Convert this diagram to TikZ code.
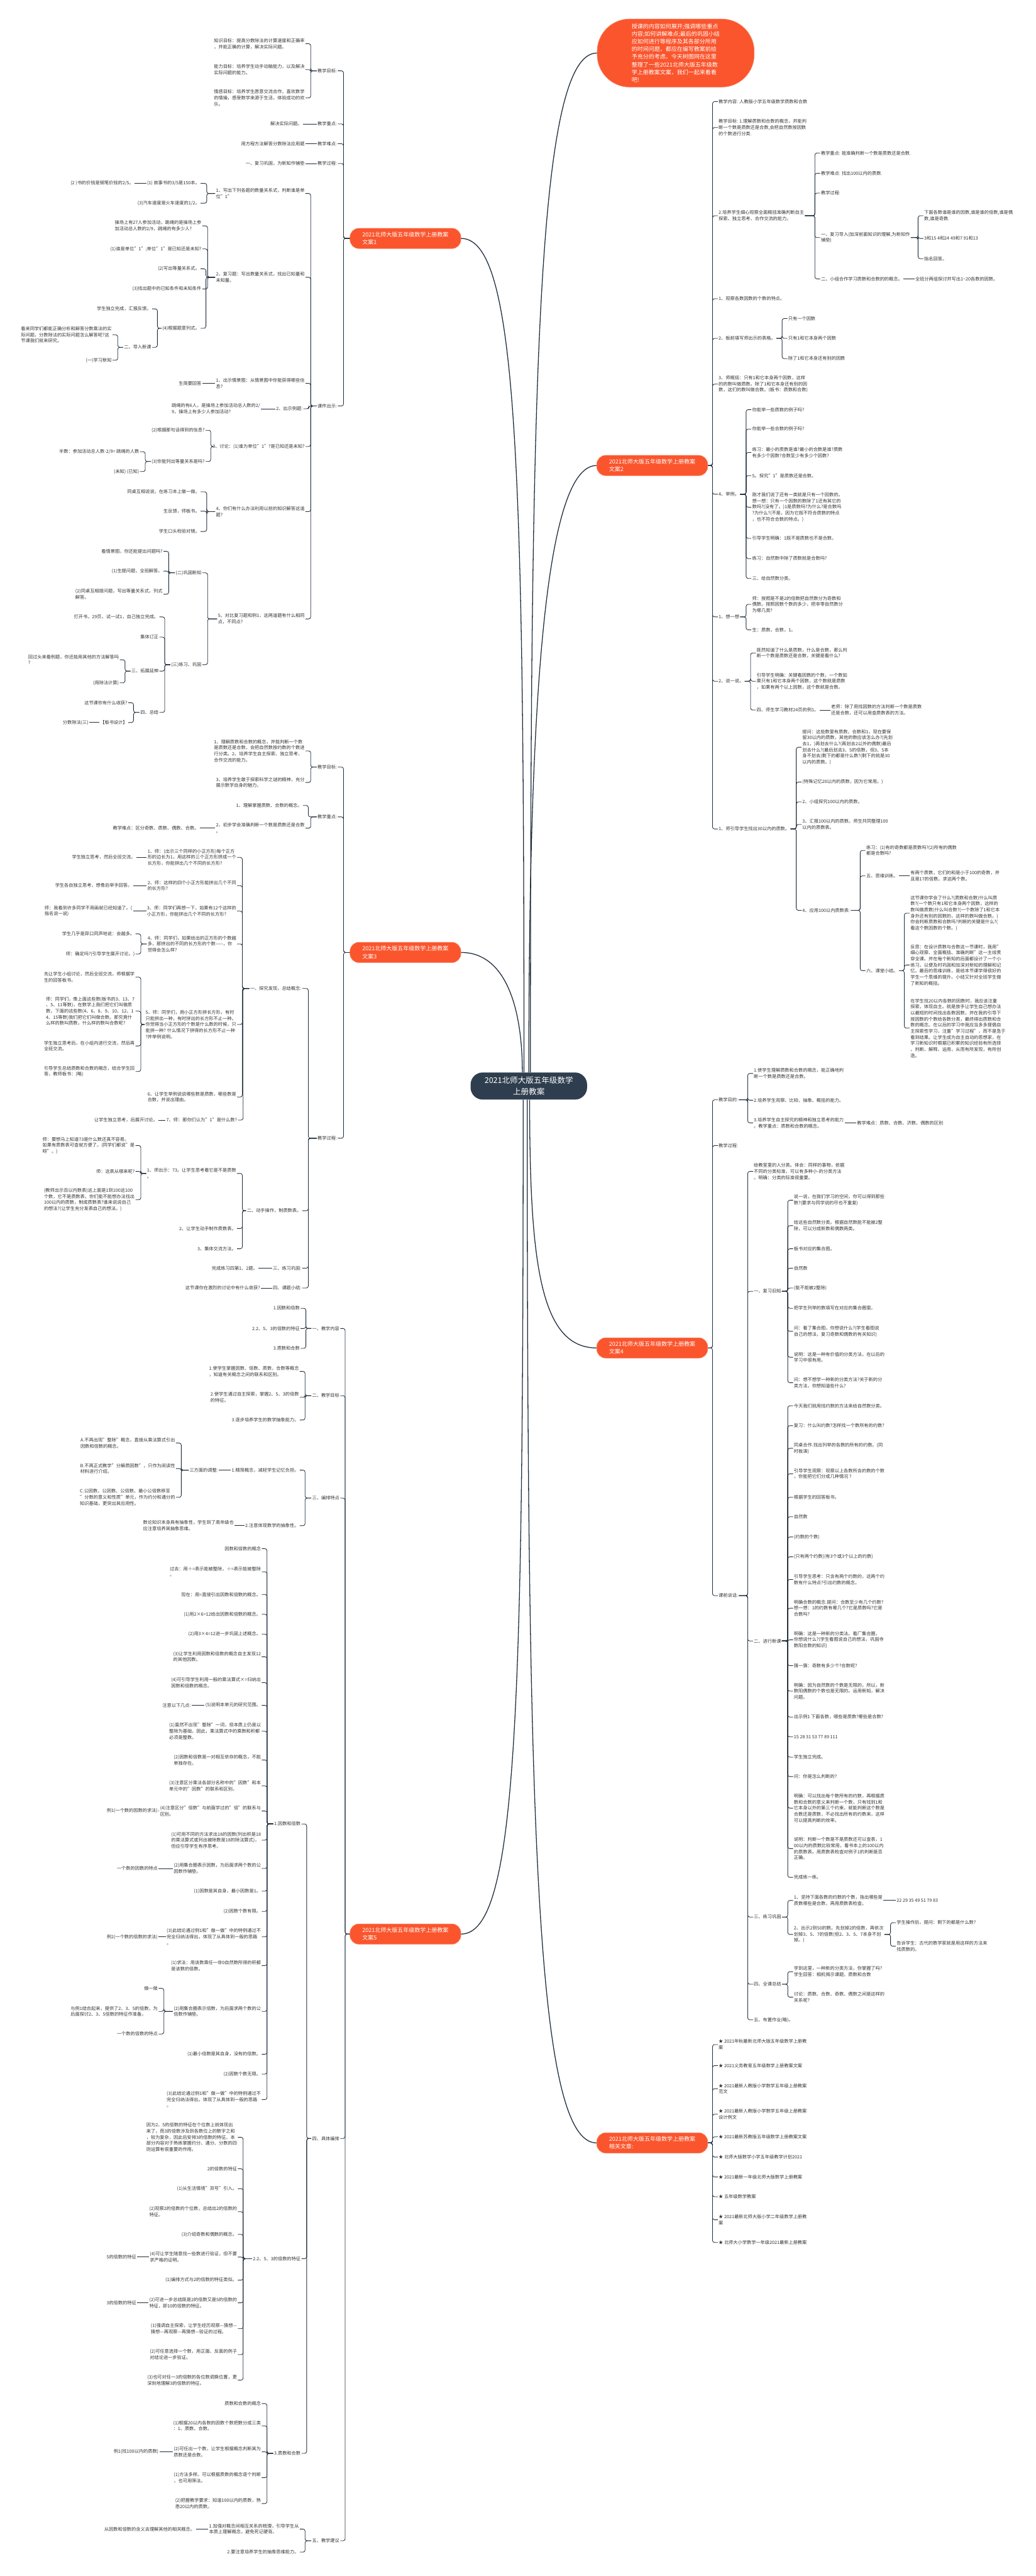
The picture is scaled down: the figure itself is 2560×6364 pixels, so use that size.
\documentclass[tikz,border=0pt]{standalone}
\usepackage{fontspec}
\setmainfont{Noto Sans CJK SC}
\usepackage{tikz}
\definecolor{brc}{RGB}{250,85,45}
\definecolor{rootc}{RGB}{47,62,78}
\definecolor{linec}{RGB}{30,45,60}
\definecolor{txt}{RGB}{51,51,51}

\begin{document}
\begin{tikzpicture}[x=1pt, y=1pt,
  lf/.style={font=\fontsize{11.2}{15}\selectfont, text=txt, align=left, inner sep=2pt},
  ll/.style={lf, anchor=east},
  rl/.style={lf, anchor=west},
  br/.style={fill=brc, draw=brc!75!white, line width=1.2pt, text=white, rounded corners=22pt, align=left,
    font=\fontsize{14}{19}\selectfont, minimum width=274pt, minimum height=50pt},
  rootbox/.style={fill=rootc, text=white, rounded corners=30pt, align=center,
    font=\fontsize{19.5}{27}\selectfont, minimum width=288pt, minimum height=67pt},
  notebox/.style={fill=brc, draw=brc!75!white, line width=1.2pt, text=white, rounded corners=80pt, align=left,
    font=\fontsize{14}{19}\selectfont, minimum width=388pt, minimum height=168pt},
  ln/.style={draw=linec, line width=1.3pt, rounded corners=5pt},
  mainln/.style={draw=linec, line width=2pt}]
\fill[white] (0,0) rectangle (2560,-6364);
\useasboundingbox (0,0) rectangle (2560,-6364);

\node[rootbox] (R) at (1307,-2683) {2021北师大版五年级数学\\上册教案};
\node[notebox] (N) at (1670,-131) {授课的内容如何展开;强调哪些重点\\内容;如何讲解难点;最后的巩固小结\\应如何进行等程序及其各部分所用\\的时间问题，都应在编写教案前给\\予充分的考虑。今天树图网在这里\\整理了一些2021北师大版五年级数\\学上册教案文案，我们一起来看看\\吧!};

% 文案1
\node[br] (A) at (1002,-589) {2021北师大版五年级数学上册教案\\文案1};
\node[ll] (A1) at (835,-175) {教学目标:};
\node[ll] (A2) at (835,-306) {教学重点:};
\node[ll] (A3) at (835,-355) {教学难点:};
\node[ll] (A4) at (835,-404) {教学过程:};
\node[ll] (A5) at (835,-1003) {课件出示:};
\node[ll] (A11) at (755,-108) {知识目标：提高分数除法的计算速度和正确率\\，并能正确的计算，解决实际问题。};
\node[ll] (A12) at (755,-172) {能力目标：培养学生动手动脑能力，以及解决\\实际问题的能力。};
\node[ll] (A13) at (755,-242) {情感目标：培养学生愿意交流合作，喜欢数学\\的情操，感受数学来源于生活，体验成功的欢\\乐。};
\node[ll] (A21) at (749,-306) {解决实际问题。};
\node[ll] (A31) at (755,-355) {用方程方法解答分数除法应用题};
\node[ll] (A41) at (755,-404) {一、复习巩固，为新知作铺垫};
\node[ll] (A51) at (755,-478) {1、写出下列各题的数量关系式，判断谁是单\\位"1"};
\node[ll] (A52) at (755,-685) {2、复习题：写出数量关系式，找出已知量和\\未知量。};
\node[ll] (A53) at (755,-947) {1、出示情景图：从情景图中你能获得哪些信\\息?};
\node[ll] (A54) at (750,-1010) {2、出示例题:};
\node[ll] (A55) at (755,-1103) {3、讨论：(1)谁为单位"1"?是已知还是未知?};
\node[ll] (A56) at (755,-1264) {4、你们有什么办法利用以前的知识解答这道\\题?};
\node[ll] (A57) at (755,-1529) {5、对比复习题和例1，这两道题有什么相同\\点，不同点?};
\node[ll] (A511) at (496,-453) {(1) 故事书的3/5是150本。};
\node[ll] (A5111) at (333,-453) {(2 )书的价钱是钢笔价钱的2/5。};
\node[ll] (A512) at (496,-502) {(3)汽车速度是火车速度的1/2。};
\node[ll] (A521) at (500,-558) {操场上有27人参加活动，跳绳的是操场上参\\加活动总人数的2/9，跳绳的有多少人?};
\node[ll] (A522) at (500,-615) {(1)谁是单位"1";单位"1"是已知还是未知?};
\node[ll] (A523) at (496,-664) {(2)写出等量关系式。};
\node[ll] (A524) at (500,-714) {(3)找出题中的已知条件和未知条件};
\node[ll] (A525) at (496,-811) {(4)根据题意列式。};
\node[ll] (A5251) at (376,-763) {学生独立完成，汇报反馈。};
\node[ll] (A5252) at (376,-858) {二、导入新课};
\node[ll] (A5253) at (278,-827) {看来同学们都能正确分析和解答分数乘法的实\\际问题，分数除法的实际问题怎么解答呢?这\\节课我们就来研究。};
\node[ll] (A5254) at (278,-890) {(一)学习新知};
\node[ll] (A531) at (500,-947) {生简要回答};
\node[ll] (A541) at (645,-1010) {跳绳的有6人，是操场上参加活动总人数的2/\\9，操场上有多少人参加活动?};
\node[ll] (A551) at (508,-1063) {(2)根据那句话得到的信息?};
\node[ll] (A552) at (508,-1140) {(3)你能列出等量关系是吗?};
\node[ll] (A5521) at (346,-1116) {半数：参加活动总人数-2/9= 跳绳的人数};
\node[ll] (A5522) at (346,-1165) {(未知) (已知)};
\node[ll] (A561) at (496,-1215) {同桌互相说说，在练习本上做一做。};
\node[ll] (A562) at (496,-1263) {生反馈，师板书。};
\node[ll] (A563) at (496,-1313) {学生口头检验对错。};
\node[ll] (A571) at (500,-1415) {(二)巩固新知};
\node[ll] (A572) at (500,-1642) {(三)练习、巩固};
\node[ll] (A5711) at (404,-1362) {看情景图，你还能提出问题吗?};
\node[ll] (A5712) at (404,-1411) {(1)生提问题，全班解答。};
\node[ll] (A5713) at (404,-1468) {(2)同桌互相提问题，写出等量关系式，列式\\解答。};
\node[ll] (A5721) at (394,-1524) {打开书，29页，试一试1，自己独立完成。};
\node[ll] (A5722) at (394,-1574) {集体订正};
\node[ll] (A5723) at (394,-1658) {三、拓展延伸};
\node[ll] (A5724) at (394,-1760) {四、总结};
\node[ll] (A5725) at (296,-1630) {回过头来看例题，你还能用其他的方法解答吗\\?};
\node[ll] (A5726) at (296,-1687) {(用除法计算)};
\node[ll] (A5727) at (317,-1736) {这节课你有什么收获?};
\node[ll] (A5728) at (317,-1785) {【板书设计】};
\node[ll] (A5729) at (221,-1785) {分数除法(三)};

\foreach \c in {A1,A2,A3,A4,A5} \draw[ln] (\c.east) -- ++(14,0) |- (A.west);
\foreach \c in {A11,A12,A13} \draw[ln] (\c.east) -- ++(13,0) |- (A1.west);
\draw[ln] (A21.east) -- (A2.west);
\draw[ln] (A31.east) -- (A3.west);
\draw[ln] (A41.east) -- (A4.west);
\foreach \c in {A51,A52,A53,A54,A55,A56,A57} \draw[ln] (\c.east) -- ++(13,0) |- (A5.west);
\foreach \c in {A511,A512} \draw[ln] (\c.east) -- ++(15,0) |- (A51.west);
\draw[ln] (A5111.east) -- (A511.west);
\foreach \c in {A521,A522,A523,A524,A525} \draw[ln] (\c.east) -- ++(13,0) |- (A52.west);
\foreach \c in {A5251,A5252} \draw[ln] (\c.east) -- ++(13,0) |- (A525.west);
\foreach \c in {A5253,A5254} \draw[ln] (\c.east) -- ++(13,0) |- (A5252.west);
\draw[ln] (A531.east) -- (A53.west);
\draw[ln] (A541.east) -- (A54.west);
\foreach \c in {A551,A552} \draw[ln] (\c.east) -- ++(13,0) |- (A55.west);
\foreach \c in {A5521,A5522} \draw[ln] (\c.east) -- ++(13,0) |- (A552.west);
\foreach \c in {A561,A562,A563} \draw[ln] (\c.east) -- ++(15,0) |- (A56.west);
\foreach \c in {A571,A572} \draw[ln] (\c.east) -- ++(13,0) |- (A57.west);
\foreach \c in {A5711,A5712,A5713} \draw[ln] (\c.east) -- ++(13,0) |- (A571.west);
\foreach \c in {A5721,A5722,A5723,A5724} \draw[ln] (\c.east) -- ++(13,0) |- (A572.west);
\foreach \c in {A5725,A5726} \draw[ln] (\c.east) -- ++(13,0) |- (A5723.west);
\foreach \c in {A5727,A5728} \draw[ln] (\c.east) -- ++(13,0) |- (A5724.west);
\draw[ln] (A5729.east) -- (A5728.west);

% 文案3
\node[br] (B) at (1002,-2353) {2021北师大版五年级数学上册教案\\文案3};
\node[ll] (B1) at (835,-1895) {教学目标:};
\node[ll] (B2) at (835,-2018) {教学重点:};
\node[ll] (B3) at (835,-2812) {教学过程:};
\node[ll] (B11) at (755,-1855) {1、理解质数和合数的概念，并能判断一个数\\是质数还是合数，会把自然数按约数的个数进\\行分类。2、培养学生自主探索、独立思考、\\合作交流的能力。};
\node[ll] (B12) at (755,-1933) {3、培养学生敢于探索科学之谜的精神，充分\\展示数学自身的魅力。};
\node[ll] (B21) at (749,-1990) {1、理解掌握质数、合数的概念。};
\node[ll] (B22) at (755,-2046) {2、初步学会准确判断一个数是质数还是合数\\。};
\node[ll] (B221) at (494,-2046) {教学难点：区分奇数、质数、偶数、合数。};
\node[ll] (B31) at (747,-2442) {一、探究发现，总结概念:};
\node[ll] (B32) at (747,-2991) {二、动手操作，制质数表。};
\node[ll] (B33) at (747,-3133) {三、练习巩固:};
\node[ll] (B34) at (747,-3182) {四、课题小结:};
\node[ll] (B331) at (639,-3133) {完成练习四第1、2题。};
\node[ll] (B341) at (645,-3182) {这节课你在激烈的讨论中有什么收获?};
\node[ll] (B311) at (586,-2118) {1、师：(出示三个同样的小正方形)每个正方\\形的边长为1，用这样的三个正方形拼成一个\\长方形，你能拼出几个不同的长方形?};
\node[ll] (B3111) at (337,-2118) {学生独立思考，然后全班交流。};
\node[ll] (B312) at (586,-2188) {2、师：这样的四个小正方形能拼出几个不同\\的长方形?};
\node[ll] (B3121) at (329,-2188) {学生各自独立思考，想像后举手回答。};
\node[ll] (B313) at (586,-2251) {3、师：同学们再想一下，如果有12个这样的\\小正方形，你能拼出几个不同的长方形?};
\node[ll] (B3131) at (329,-2251) {师：我看到许多同学不用画就已经知道了。(\\指名说一说)};
\node[ll] (B314) at (586,-2332) {4、师：同学们，如果给出的正方形的个数越\\多，那拼出的不同的长方形的个数——，你\\觉得会怎么样?};
\node[ll] (B3141) at (335,-2307) {学生几乎是异口同声地说：会越多。};
\node[ll] (B3142) at (335,-2357) {师：确定吗?(引导学生展开讨论。)};
\node[ll] (B315) at (586,-2531) {5、师：同学们，用小正方形拼长方形，有时\\只能拼出一种，有时拼出的长方形不止一种。\\你觉得当小正方形的个数是什么数的时候，只\\能拼一种? 什么情况下拼得的长方形不止一种\\?并举例说明。};
\node[ll] (B3151) at (335,-2414) {先让学生小组讨论，然后全班交流，师根据学\\生的回答板书。};
\node[ll] (B3152) at (335,-2498) {师：同学们，像上面这些数(板书的3、13、7\\、5、11等数)，在数学上我们把它们叫做质\\数，下面的这些数(4、6、8、9、10、12、1\\4、15等数)我们把它们叫做合数。那究竟什\\么样的数叫质数，什么样的数叫合数呢?};
\node[ll] (B3153) at (335,-2584) {学生独立思考后，在小组内进行交流，然后再\\全班交流。};
\node[ll] (B3154) at (335,-2647) {引导学生总结质数和合数的概念，结合学生回\\答，教师板书：(略)};
\node[ll] (B316) at (586,-2710) {6、让学生举例说说哪些数是质数，哪些数是\\合数，并说出理由。};
\node[ll] (B317) at (588,-2767) {7、师：那你们认为"1"是什么数?};
\node[ll] (B3171) at (392,-2767) {让学生独立思考，后展开讨论。};
\node[ll] (B321) at (586,-2899) {1、师出示：73。让学生思考着它是不是质数\\。};
\node[ll] (B3211) at (335,-2830) {师：要想马上知道73是什么数还真不容易。\\如果有质数表可查就方便了。(同学们都说"是\\呀"。)};
\node[ll] (B3212) at (335,-2894) {师：这表从哪来呢?};
\node[ll] (B3213) at (335,-2964) {(教师出示百以内数表)这上面是1到100这100\\个数，它不是质数表，你们能不能想办法找出\\100以内的质数，制成质数表?谁来说说自己\\的想法?(让学生充分发表自己的想法。)};
\node[ll] (B322) at (586,-3035) {2、让学生动手制作质数表。};
\node[ll] (B323) at (586,-3085) {3、集体交流方法。};

\foreach \c in {B1,B2,B3} \draw[ln] (\c.east) -- ++(14,0) |- (B.west);
\foreach \c in {B11,B12} \draw[ln] (\c.east) -- ++(13,0) |- (B1.west);
\foreach \c in {B21,B22} \draw[ln] (\c.east) -- ++(13,0) |- (B2.west);
\draw[ln] (B221.east) -- (B22.west);
\foreach \c in {B31,B32,B33,B34} \draw[ln] (\c.east) -- ++(15,0) |- (B3.west);
\draw[ln] (B331.east) -- (B33.west);
\draw[ln] (B341.east) -- (B34.west);
\foreach \c in {B311,B312,B313,B314,B315,B316,B317} \draw[ln] (\c.east) -- ++(13,0) |- (B31.west);
\draw[ln] (B3111.east) -- (B311.west);
\draw[ln] (B3121.east) -- (B312.west);
\draw[ln] (B3131.east) -- (B313.west);
\foreach \c in {B3141,B3142} \draw[ln] (\c.east) -- ++(13,0) |- (B314.west);
\foreach \c in {B3151,B3152,B3153,B3154} \draw[ln] (\c.east) -- ++(13,0) |- (B315.west);
\draw[ln] (B3171.east) -- (B317.west);
\foreach \c in {B321,B322,B323} \draw[ln] (\c.east) -- ++(13,0) |- (B32.west);
\foreach \c in {B3211,B3212,B3213} \draw[ln] (\c.east) -- ++(13,0) |- (B321.west);

% 文案5
\node[br] (C) at (1002,-4778) {2021北师大版五年级数学上册教案\\文案5};
\node[ll] (C1) at (841,-3282) {一、教学内容};
\node[ll] (C2) at (841,-3448) {二、教学目标};
\node[ll] (C3) at (841,-3701) {三、编排特点};
\node[ll] (C4) at (841,-5283) {四、具体编排};
\node[ll] (C5) at (841,-6277) {五、教学建议};
\node[ll] (C11) at (743,-3232) {1.因数和倍数};
\node[ll] (C12) at (743,-3282) {2.2、5、3的倍数的特征};
\node[ll] (C13) at (743,-3331) {3.质数和合数};
\node[ll] (C21) at (741,-3388) {1.使学生掌握因数、倍数、质数、合数等概念\\，知道有关概念之间的联系和区别。};
\node[ll] (C22) at (741,-3452) {2.使学生通过自主探索，掌握2、5、3的倍数\\的特征。};
\node[ll] (C23) at (741,-3508) {3.逐步培养学生的数学抽象能力。};
\node[ll] (C31) at (741,-3632) {1.精简概念，减轻学生记忆负担。};
\node[ll] (C311) at (541,-3632) {三方面的调整:};
\node[ll] (C3111) at (435,-3565) {A.不再出现"整除"概念，直接从乘法算式引出\\因数和倍数的概念。};
\node[ll] (C3112) at (435,-3628) {B.不再正式教学"分解质因数"，只作为阅读性\\材料进行介绍。};
\node[ll] (C3113) at (435,-3699) {C.公因数、公因数、公倍数、最小公倍数移至\\"分数的意义和性质"单元，作为约分和通分的\\知识基础，更突出其应用性。};
\node[ll] (C32) at (741,-3769) {2.注意体现数学的抽象性。};
\node[ll] (C321) at (580,-3769) {数论知识本身具有抽象性，学生到了高年级也\\应注意培养其抽象思维。};
\node[ll] (C41) at (745,-4506) {1.因数和倍数};
\node[ll] (C42) at (745,-5580) {2.2、5、3的倍数的特征};
\node[ll] (C43) at (745,-6061) {3.质数和合数};
\node[ll] (C4101) at (647,-3826) {因数和倍数的概念};
\node[ll] (C4102) at (647,-3883) {过去：用÷=表示能被整除，÷=表示能被整除\\。};
\node[ll] (C4103) at (647,-3939) {现在：用=直接引出因数和倍数的概念。};
\node[ll] (C4104) at (647,-3988) {(1)用2×6=12给出因数和倍数的概念。};
\node[ll] (C4105) at (647,-4037) {(2)用3×4=12进一步巩固上述概念。};
\node[ll] (C4106) at (647,-4093) {(3)让学生利用因数和倍数的概念自主发现12\\的其他因数。};
\node[ll] (C4107) at (647,-4157) {(4)可引导学生利用一般的乘法算式×=归纳出\\因数和倍数的概念。};
\node[ll] (C4108) at (647,-4213) {(5)说明本单元的研究范围。};
\node[ll] (C4108a) at (474,-4213) {注意以下几点:};
\node[ll] (C4109) at (647,-4277) {(1)虽然不出现"整除"一词，但本质上仍是以\\整除为基础，因此，乘法算式中的乘数和积都\\必须是整数。};
\node[ll] (C4110) at (647,-4348) {(2)因数和倍数是一对相互依存的概念，不能\\单独存在。};
\node[ll] (C4111) at (647,-4412) {(3)注意区分乘法各部分名称中的"因数"和本\\单元中的"因数"的联系和区别。};
\node[ll] (C4112) at (647,-4474) {(4)注意区分"倍数"与前面学过的"倍"的联系与\\区别。};
\node[ll] (C4112a) at (392,-4474) {例1(一个数的因数的求法)};
\node[ll] (C4113) at (647,-4546) {(1)可用不同的方法求出18的因数(列出积是18\\的乘法算式或列出被除数是18的除法算式)，\\但应引导学生有序思考。};
\node[ll] (C4114) at (647,-4616) {(2)用集合圈表示因数，为后面求两个数的公\\因数作铺垫。};
\node[ll] (C4114a) at (392,-4616) {一个数的因数的特点};
\node[ll] (C4115) at (647,-4672) {(1)因数是其自身，最小因数是1。};
\node[ll] (C4116) at (647,-4722) {(2)因数个数有限。};
\node[ll] (C4117) at (647,-4785) {(3)此结论通过例1和"做一做"中的特例通过不\\完全归纳法得出，体现了从具体到一般的思路\\。};
\node[ll] (C4117a) at (392,-4785) {例2(一个数的倍数的求法)};
\node[ll] (C4118) at (647,-4856) {(1)求法：用该数乘任一非0自然数所得的积都\\是该数的倍数。};
\node[ll] (C4119) at (647,-4969) {(2)用集合圈表示倍数，为后面求两个数的公\\倍数作铺垫。};
\node[ll] (C4119a) at (392,-4912) {做一做};
\node[ll] (C4119b) at (392,-4969) {与例1结合起来，提供了2、3、5的倍数，为\\后面探讨2、3、5倍数的特征作准备。};
\node[ll] (C4119c) at (392,-5025) {一个数的倍数的特点};
\node[ll] (C4120) at (647,-5075) {(1)最小倍数是其自身，没有的倍数。};
\node[ll] (C4121) at (647,-5124) {(2)因数个数无限。};
\node[ll] (C4122) at (647,-5187) {(3)此结论通过例1和"做一做"中的特例通过不\\完全归纳法得出，体现了从具体到一般的思路\\。};
\node[ll] (C4201) at (588,-5280) {因为2、5的倍数的特征在个位数上就体现出\\来了，而3的倍数涉及到各数位上的数字之和\\，较为复杂，因此后安排3的倍数的特征。本\\部分内容对于熟练掌握约分、通分、分数的四\\则运算有很重要的作用。};
\node[ll] (C4202) at (588,-5358) {2的倍数的特征};
\node[ll] (C4203) at (588,-5407) {(1)从生活情境"双号"引入。};
\node[ll] (C4204) at (588,-5464) {(2)观察2的倍数的个位数，总结出2的倍数的\\特征。};
\node[ll] (C4205) at (588,-5520) {(3)介绍奇数和偶数的概念。};
\node[ll] (C4206) at (588,-5576) {(4)可让学生随意找一些数进行验证，但不要\\求严格的证明。};
\node[ll] (C4206a) at (339,-5576) {5的倍数的特征};
\node[ll] (C4207) at (588,-5633) {(1)编排方式与2的倍数的特征类似。};
\node[ll] (C4208) at (588,-5689) {(2)可进一步总结既是2的倍数又是5的倍数的\\特征，即10的倍数的特征。};
\node[ll] (C4208a) at (339,-5689) {3的倍数的特征};
\node[ll] (C4209) at (588,-5753) {(1)强调自主探索，让学生经历观察—猜想—\\猜想—再观察—再猜想—验证的过程。};
\node[ll] (C4210) at (588,-5817) {(2)可任意选择一个数，用正面、反面的例子\\对结论进一步验证。};
\node[ll] (C4211) at (588,-5880) {(3)也可对任一3的倍数的各位数调换位置，更\\深刻地理解3的倍数的特征。};
\node[ll] (C4301) at (647,-5938) {质数和合数的概念};
\node[ll] (C4302) at (647,-5993) {(1)根据20以内各数的因数个数把数分成三类\\：1、质数、合数。};
\node[ll] (C4303) at (647,-6057) {(2)可任出一个数，让学生根据概念判断其为\\质数还是合数。};
\node[ll] (C4303a) at (394,-6057) {例1(找100以内的质数)};
\node[ll] (C4304) at (647,-6121) {(1)方法多样。可以根据质数的概念逐个判断\\，也可用筛法。};
\node[ll] (C4305) at (647,-6185) {(2)把握教学要求：知道100以内的质数，熟\\悉20以内的质数。};
\node[ll] (C51) at (741,-6248) {1.加强对概念间相互关系的梳理，引导学生从\\本质上理解概念，避免死记硬背。};
\node[ll] (C51a) at (484,-6248) {从因数和倍数的含义去理解其他的相关概念。};
\node[ll] (C52) at (741,-6305) {2.要注意培养学生的抽象思维能力。};

\foreach \c in {C1,C2,C3,C4,C5} \draw[ln] (\c.east) -- ++(12,0) |- (C.west);
\foreach \c in {C11,C12,C13} \draw[ln] (\c.east) -- ++(13,0) |- (C1.west);
\foreach \c in {C21,C22,C23} \draw[ln] (\c.east) -- ++(13,0) |- (C2.west);
\foreach \c in {C31,C32} \draw[ln] (\c.east) -- ++(13,0) |- (C3.west);
\draw[ln] (C311.east) -- (C31.west);
\foreach \c in {C3111,C3112,C3113} \draw[ln] (\c.east) -- ++(13,0) |- (C311.west);
\draw[ln] (C321.east) -- (C32.west);
\foreach \c in {C41,C42,C43} \draw[ln] (\c.east) -- ++(13,0) |- (C4.west);
\foreach \c in {C4101,C4102,C4103,C4104,C4105,C4106,C4107,C4108,C4109,C4110,C4111,C4112,C4113,C4114,C4115,C4116,C4117,C4118,C4119,C4120,C4121,C4122} \draw[ln] (\c.east) -- ++(13,0) |- (C41.west);
\draw[ln] (C4108a.east) -- (C4108.west);
\draw[ln] (C4112a.east) -- (C4112.west);
\draw[ln] (C4114a.east) -- (C4114.west);
\draw[ln] (C4117a.east) -- (C4117.west);
\foreach \c in {C4119a,C4119b,C4119c} \draw[ln] (\c.east) -- ++(13,0) |- (C4119.west);
\foreach \c in {C4201,C4202,C4203,C4204,C4205,C4206,C4207,C4208,C4209,C4210,C4211} \draw[ln] (\c.east) -- ++(13,0) |- (C42.west);
\draw[ln] (C4206a.east) -- (C4206.west);
\draw[ln] (C4208a.east) -- (C4208.west);
\foreach \c in {C4301,C4302,C4303,C4304,C4305} \draw[ln] (\c.east) -- ++(13,0) |- (C43.west);
\draw[ln] (C4303a.east) -- (C4303.west);
\foreach \c in {C51,C52} \draw[ln] (\c.east) -- ++(13,0) |- (C5.west);
\draw[ln] (C51a.east) -- (C51.west);

% 文案2
\node[br] (D) at (1612,-1150) {2021北师大版五年级数学上册教案\\文案2};
\node[rl] (D1) at (1774,-251) {教学内容: 人教版小学五年级数学质数和合数};
\node[rl] (D2) at (1774,-315) {教学目标: 1.理解质数和合数的概念，并能判\\断一个数是质数还是合数,会把自然数按因数\\的个数进行分类.};
\node[rl] (D3) at (1774,-533) {2.培养学生细心观察全面概括准确判断自主\\探索、独立思考、合作交流的能力。};
\node[rl] (D4) at (1774,-738) {1、观察各数因数的个数的特点。};
\node[rl] (D5) at (1774,-836) {2、板前填写师出示的表格。};
\node[rl] (D6) at (1774,-949) {3、师概括：只有1和它本身两个因数，这样\\的的数叫做质数。除了1和它本身还有别的因\\数，这们的数叫做合数。(板书：质数和合数)};
\node[rl] (D7) at (1774,-1221) {4、举例。};
\node[rl] (D8) at (1774,-1524) {1、想一想};
\node[rl] (D9) at (1774,-1683) {2、说一说。};
\node[rl] (D10) at (1774,-2048) {1、师引导学生找出30以内的质数。};
\node[rl] (D31) at (2027,-378) {教学重点: 能准确判断一个数是质数还是合数.};
\node[rl] (D32) at (2027,-428) {教学难点: 找出100以内的质数.};
\node[rl] (D33) at (2027,-477) {教学过程:};
\node[rl] (D34) at (2027,-587) {一、复习导入(加深前面知识的理解,为新知作\\铺垫)};
\node[rl] (D35) at (2027,-689) {二、小组合作学习质数和合数的的概念。};
\node[rl] (D351) at (2260,-689) {全班分两组探讨并写出1\textasciitilde20各数的因数。};
\node[rl] (D341) at (2282,-533) {下面各数谁是谁的因数,谁是谁的倍数,谁是偶\\数,谁是奇数.};
\node[rl] (D342) at (2282,-589) {3和15 4和24 49和7 91和13};
\node[rl] (D343) at (2282,-639) {指名回答。};
\node[rl] (D51) at (1946,-787) {只有一个因数};
\node[rl] (D52) at (1946,-836) {只有1和它本身两个因数};
\node[rl] (D53) at (1946,-886) {除了1和它本身还有别的因数};
\node[rl] (D71) at (1857,-1012) {你能举一些质数的例子吗?};
\node[rl] (D72) at (1857,-1060) {你能举一些合数的例子吗?};
\node[rl] (D73) at (1857,-1118) {练习：最小的质数是谁?最小的合数是谁?质数\\有多少个因数?合数至少有多少个因数?};
\node[rl] (D74) at (1857,-1175) {5。探究"1"是质数还是合数。};
\node[rl] (D75) at (1857,-1253) {刚才我们说了还有一类就是只有一个因数的。\\想一想：只有一个因数的数除了1还有其它的\\数吗?(没有了。)1是质数吗?为什么?是合数吗\\?为什么?(不是，因为它既不符合质数的特点\\，也不符合合数的特点。)};
\node[rl] (D76) at (1857,-1330) {引导学生明确：1既不是质数也不是合数。};
\node[rl] (D77) at (1857,-1380) {练习：自然数中除了质数就是合数吗?};
\node[rl] (D78) at (1857,-1429) {三、给自然数分类。};
\node[rl] (D81) at (1857,-1493) {师：按照是不是2的倍数把自然数分为奇数和\\偶数。按照因数个数的多少，把非零自然数分\\为哪几类?};
\node[rl] (D82) at (1857,-1556) {生：质数，合数，1。};
\node[rl] (D91) at (1868,-1613) {既然知道了什么是质数，什么是合数，那么判\\断一个数是质数还是合数，关键是看什么?};
\node[rl] (D92) at (1868,-1683) {引导学生明确：关键看因数的个数，一个数如\\果只有1和它本身两个因数，这个数就是质数\\，如果有两个以上因数，这个数就是合数。};
\node[rl] (D93) at (1868,-1754) {四、师生学习教材24页的例1。};
\node[rl] (D931) at (2052,-1754) {老师：除了用找因数的方法判断一个数是质数\\还是合数，还可以用查质数表的方法。};
\node[rl] (D101) at (1981,-1846) {提问：这些数里有质数、合数和1，现在要保\\留30以内的质数，其他的数应该怎么办?(先划\\去1，)再划去什么?(再划去2以外的偶数)最后\\划去什么?(最后划去3、5的倍数，但3、5本\\身不划去)剩下的都是什么数?(剩下的就是30\\以内的质数。)};
\node[rl] (D102) at (1981,-1932) {(特殊记忆20以内的质数，因为它常用。)};
\node[rl] (D103) at (1981,-1981) {2、小组探究100以内的质数。};
\node[rl] (D104) at (1981,-2037) {3、汇报100以内的质数。师生共同整理100\\以内的质数表。};
\node[rl] (D105) at (1981,-2249) {4、应用100以内质数表:};
\node[rl] (D1051) at (2139,-2101) {练习：(1)有的奇数都是质数吗?(2)所有的偶数\\都是合数吗?};
\node[rl] (D1052) at (2139,-2164) {五、思维训练。};
\node[rl] (D1052a) at (2248,-2164) {有两个质数，它们的和是小于100的奇数，并\\且是17的倍数。求这两个数。};
\node[rl] (D1053) at (2139,-2398) {六、课堂小结。};
\node[rl] (D1053a) at (2248,-2256) {这节课你学会了什么?(质数和合数)什么叫质\\数?(一个数只有1和它本身两个因数，这样的\\数叫做质数)什么叫合数?(一个数除了1和它本\\身外还有别的因数的，这样的数叫做合数。)\\你会判断质数和合数吗?判断的关键是什么?(\\看这个数因数的个数。)};
\node[rl] (D1053b) at (2248,-2384) {反思：在设计质数与合数这一节课时，我用"\\细心观察、全面概括、准确判断"这一主线贯\\穿全课。并在每个新知的后面都设计了一个小\\练习，以便及时巩固和加深对新知的理解和记\\忆。最后的思维训练，是给本节课学得很好的\\学生一个思维的提升。小结又针对全班学生做\\了新知的概括。};
\node[rl] (D1053c) at (2248,-2540) {在学生找20以内各数的因数时，我应该注重\\探索，体现自主。就是放手让学生自己想办法\\以最短的时间找出各数因数，并在我的引导下\\按因数的个数给各数分类，最终得出质数和合\\数的概念。在以后的学习中我应当多多提倡自\\主探索性学习，注重"学习过程"，而不是急于\\看到结果。让学生成为自主自动的思想家，在\\学习新知识时根据已积累的知识经验有所选择\\、判断、解释、运用，从而有所发现，有所创\\造。};

\foreach \c in {D1,D2,D3,D4,D5,D6,D7,D8,D9,D10} \draw[ln] (\c.west) -- ++(-13,0) |- (D.east);
\foreach \c in {D31,D32,D33,D34,D35} \draw[ln] (\c.west) -- ++(-13,0) |- (D3.east);
\draw[ln] (D351.west) -- (D35.east);
\foreach \c in {D341,D342,D343} \draw[ln] (\c.west) -- ++(-13,0) |- (D34.east);
\foreach \c in {D51,D52,D53} \draw[ln] (\c.west) -- ++(-13,0) |- (D5.east);
\foreach \c in {D71,D72,D73,D74,D75,D76,D77,D78} \draw[ln] (\c.west) -- ++(-13,0) |- (D7.east);
\foreach \c in {D81,D82} \draw[ln] (\c.west) -- ++(-13,0) |- (D8.east);
\foreach \c in {D91,D92,D93} \draw[ln] (\c.west) -- ++(-13,0) |- (D9.east);
\draw[ln] (D931.west) -- (D93.east);
\foreach \c in {D101,D102,D103,D104,D105} \draw[ln] (\c.west) -- ++(-13,0) |- (D10.east);
\foreach \c in {D1051,D1052,D1053} \draw[ln] (\c.west) -- ++(-13,0) |- (D105.east);
\draw[ln] (D1052a.west) -- (D1052.east);
\foreach \c in {D1053a,D1053b,D1053c} \draw[ln] (\c.west) -- ++(-13,0) |- (D1053.east);

% 文案4
\node[br] (E) at (1612,-3330) {2021北师大版五年级数学上册教案\\文案4};
\node[rl] (E1) at (1774,-2717) {教学目的:};
\node[rl] (E2) at (1774,-2830) {教学过程:};
\node[rl] (E3) at (1774,-3942) {课前谈话:};
\node[rl] (E11) at (1861,-2652) {1.使学生理解质数和合数的概念，能正确地判\\断一个数是质数还是合数。};
\node[rl] (E12) at (1861,-2718) {2.培养学生观察、比较、抽象、概括的能力。};
\node[rl] (E13) at (1861,-2774) {3.培养学生自主探究的精神和独立思考的能力\\。教学重点：质数和合数的概念。};
\node[rl] (E131) at (2116,-2774) {教学难点：质数、合数、济数、偶数的区别};
\node[rl] (E31) at (1861,-2894) {给教室里的人分类。体会：同样的事物，依据\\不同的分类标准，可以有多种小-的分类方法\\。明确：分类的际准很重要。};
\node[rl] (E32) at (1861,-3190) {一、复习旧知};
\node[rl] (E33) at (1861,-4054) {二、进行新课};
\node[rl] (E34) at (1861,-4736) {三、练习巩固};
\node[rl] (E35) at (1861,-4902) {四、全课总结};
\node[rl] (E36) at (1861,-4990) {五、布置作业(略)。};
\node[rl] (E3201) at (1960,-2965) {说一说，在我们学习的空间，你可以得到那些\\数?(要求与同学说的尽也不重复)};
\node[rl] (E3202) at (1960,-3028) {给这些自然数分类。根据自然数能不能被2整\\除，可以分成新数和偶数两类。};
\node[rl] (E3203) at (1960,-3085) {板书对应的集合图。};
\node[rl] (E3204) at (1960,-3133) {自然数};
\node[rl] (E3205) at (1960,-3182) {(能不能被2整除)};
\node[rl] (E3206) at (1960,-3232) {把学生列举的数填写在对应的集合圈里。};
\node[rl] (E3207) at (1960,-3289) {问：看了集合图，你想说什么?(学生看图说\\自己的想法，复习奇数和偶数的有关知识)};
\node[rl] (E3208) at (1960,-3353) {说明：这是一种有价值的分类方法，在以后的\\学习中很有用。};
\node[rl] (E3209) at (1960,-3416) {问：想不想学一种新的分类方法?关于新的分\\类方法，你想知道些什么?};
\node[rl] (E3301) at (1960,-3473) {今天我们就用找约数的方法来给自然数分类。};
\node[rl] (E3302) at (1960,-3522) {复习：什么叫约数?怎样找一个数所有的约数?};
\node[rl] (E3303) at (1960,-3578) {同桌合作.找出列举的各数的所有的约数。(同\\时板演)};
\node[rl] (E3304) at (1960,-3641) {引导学生观察：观察以上各数所含的数的个数\\，你能把它们分成几种情况 ?};
\node[rl] (E3305) at (1960,-3699) {根据学生的回答板书。};
\node[rl] (E3306) at (1960,-3747) {自然数};
\node[rl] (E3307) at (1960,-3797) {(约数的个数)};
\node[rl] (E3308) at (1960,-3846) {(只有两个约数)(有3个或3个以上的约数)};
\node[rl] (E3309) at (1960,-3902) {引导学生思考：只含有两个约数的，这两个约\\数有什么特点?引出约数的概念。};
\node[rl] (E3310) at (1960,-3973) {明确合数的概念.提问：合数至少有几个约数?\\想一想：1的约数有哪几个?它是质数吗?它是\\合数吗?};
\node[rl] (E3311) at (1960,-4051) {明确：这是一种新的分类法。看厂集合圈，\\你想说什么?(学生看图说自己的想法，巩固寺\\数阳合数的知识)};
\node[rl] (E3312) at (1960,-4115) {猜一猜：奇数有多少个?合数呢?};
\node[rl] (E3313) at (1960,-4178) {明确：因为自然数的个数是无限的，所以，新\\数阳偶数的个数也是无限的。运用新知，解决\\问题。};
\node[rl] (E3314) at (1960,-4242) {出示例1 下面各数，哪些是质数?哪些是合数?};
\node[rl] (E3315) at (1960,-4291) {15 28 31 53 77 89 111};
\node[rl] (E3316) at (1960,-4341) {学生独立完成。};
\node[rl] (E3317) at (1960,-4389) {问：你是怎么判断的?};
\node[rl] (E3318) at (1960,-4467) {明确：可以找出每个数所有的约数，再根据质\\数和合数的意义来判断一个数，只有找到1和\\它本身以外的第三个约束，就能判断这个数是\\合数还是质数，不必找出所有的约数来，这样\\可以提高判断的效率。};
\node[rl] (E3319) at (1960,-4567) {说明：判断一个数是不是质数还可以查表，1\\00以内的质数比较常用，看书本上的100以内\\的质数表。用质数表检查对例子1的判断是否\\正确。};
\node[rl] (E3320) at (1960,-4638) {完成练一练。};
\node[rl] (E341) at (1960,-4695) {1、坚持下面各数的约数的个数，指出哪些是\\质数哪些是合数，再用质数表检查。};
\node[rl] (E3411) at (2214,-4695) {22 29 35 49 51 79 83};
\node[rl] (E342) at (1960,-4779) {2、出示2到50的数。先划掉2的倍数，再依次\\划掉3、5、7的倍数(但2、3、5、7本身不划\\掉。)};
\node[rl] (E3421) at (2214,-4750) {学生操作后，提问：剩下的都是什么数?};
\node[rl] (E3422) at (2214,-4808) {告诉学生：古代的数学家就是用这样的方法来\\找质数的。};
\node[rl] (E351) at (1960,-4871) {学到这里，一种新的分类方法，你掌握了吗?\\学生回答：相机揭示课题，质数和合数};
\node[rl] (E352) at (1960,-4934) {讨论：质数、合数、奇数、偶数之间是这样的\\关系呢?};

\foreach \c in {E1,E2,E3} \draw[ln] (\c.west) -- ++(-13,0) |- (E.east);
\foreach \c in {E11,E12,E13} \draw[ln] (\c.west) -- ++(-13,0) |- (E1.east);
\draw[ln] (E131.west) -- (E13.east);
\foreach \c in {E31,E32,E33,E34,E35,E36} \draw[ln] (\c.west) -- ++(-13,0) |- (E3.east);
\foreach \c in {E3201,E3202,E3203,E3204,E3205,E3206,E3207,E3208,E3209} \draw[ln] (\c.west) -- ++(-13,0) |- (E32.east);
\foreach \c in {E3301,E3302,E3303,E3304,E3305,E3306,E3307,E3308,E3309,E3310,E3311,E3312,E3313,E3314,E3315,E3316,E3317,E3318,E3319,E3320} \draw[ln] (\c.west) -- ++(-13,0) |- (E33.east);
\foreach \c in {E341,E342} \draw[ln] (\c.west) -- ++(-13,0) |- (E34.east);
\draw[ln] (E3411.west) -- (E341.east);
\foreach \c in {E3421,E3422} \draw[ln] (\c.west) -- ++(-13,0) |- (E342.east);
\foreach \c in {E351,E352} \draw[ln] (\c.west) -- ++(-13,0) |- (E35.east);

% 相关文章
\node[br] (F) at (1612,-5294) {2021北师大版五年级数学上册教案\\相关文章:};
\node[rl] (F1) at (1774,-5051) {★ 2021年秋最新北师大版五年级数学上册教\\案};
\node[rl] (F2) at (1774,-5103) {★ 2021义务教育五年级数学上册教案文案};
\node[rl] (F3) at (1774,-5160) {★ 2021最新人教版小学数学五年级上册教案\\范文};
\node[rl] (F4) at (1774,-5223) {★ 2021最新人教版小学数学五年级上册教案\\设计例文};
\node[rl] (F5) at (1774,-5279) {★ 2021最新苏教版五年级数学上册教案文案};
\node[rl] (F6) at (1774,-5329) {★ 北师大版数学小学五年级教学计划2021};
\node[rl] (F7) at (1774,-5378) {★ 2021最新一年级北师大版数学上册教案};
\node[rl] (F8) at (1774,-5427) {★ 五年级数学教案};
\node[rl] (F9) at (1774,-5484) {★ 2021最新北师大版小学二年级数学上册教\\案};
\node[rl] (F10) at (1774,-5540) {★ 北师大小学数学一年级2021最新上册教案};
\foreach \c in {F1,F2,F3,F4,F5,F6,F7,F8,F9,F10} \draw[ln] (\c.west) -- ++(-13,0) |- (F.east);

% 主干
\draw[mainln] (A.east) .. controls +(140,0) and +(0,1500) .. ([xshift=-12pt]R.north);
\draw[mainln] (B.east) .. controls +(110,0) and +(0,160) .. ([xshift=-16pt]R.north);
\draw[mainln] (C.east) .. controls +(140,0) and +(0,-1500) .. ([xshift=-14pt]R.south);
\draw[mainln] (N.west) .. controls +(-150,0) and +(0,1700) .. ([xshift=4pt]R.north);
\draw[mainln] (D.west) .. controls +(-130,0) and +(0,900) .. (R.north);
\draw[mainln] (E.west) .. controls +(-140,0) and +(0,-400) .. ([xshift=2pt]R.south);
\draw[mainln] (F.west) .. controls +(-150,0) and +(0,-1800) .. ([xshift=-4pt]R.south);
\end{tikzpicture}
\end{document}
